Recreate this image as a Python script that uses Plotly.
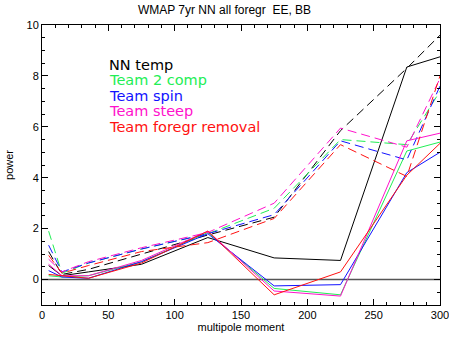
import plotly.graph_objects as go

ell = [5, 15, 35, 75, 125, 175, 225, 275, 300]

nn_solid = [0.55, 0.15, 0.3, 0.6, 1.65, 0.85, 0.75, 8.35, 8.75]
nn_dash = [1.1, 0.2, 0.4, 1.0, 1.75, 2.45, 5.85, 8.3, 9.6]
two_solid = [0.15, 0.1, 0.15, 0.7, 1.85, -0.35, -0.6, 5.05, 5.4]
two_dash = [1.9, 0.25, 0.65, 1.2, 1.8, 2.8, 5.5, 5.3, 7.4]
spin_solid = [0.35, 0.1, 0.05, 0.7, 1.8, -0.25, -0.2, 4.2, 5.0]
spin_dash = [1.35, 0.3, 0.65, 1.2, 1.8, 2.55, 5.45, 4.7, 7.6]
steep_solid = [0.6, 0.15, 0.15, 0.75, 1.9, -0.45, -0.65, 5.45, 5.75]
steep_dash = [0.8, 0.3, 0.7, 1.25, 1.85, 3.0, 5.95, 5.2, 7.9]
rem_solid = [0.2, 0.15, 0.05, 0.65, 1.9, -0.6, 0.3, 4.1, 5.35]
rem_dash = [0.95, 0.25, 0.55, 1.1, 1.45, 2.4, 5.3, 4.05, 8.0]

names = ["NN temp", "Team 2 comp", "Team spin", "Team steep", "Team foregr removal"]
colors = ["#000000", "#22ee55", "#1111ff", "#ff11cc", "#ff1111"]
solids = [nn_solid, two_solid, spin_solid, steep_solid, rem_solid]
dashes = [nn_dash, two_dash, spin_dash, steep_dash, rem_dash]

x_ticks = [0, 50, 100, 150, 200, 250, 300]
y_ticks = [0, 2, 4, 6, 8, 10]

zero_x = [0, 300]
zero_y = [0, 0]

fig = go.Figure()
fig.add_trace(go.Scatter(x=zero_x, y=zero_y, mode="lines",
                         line=dict(color="#555555", width=1.5), showlegend=False))
for n, c, s, d in zip(names, colors, solids, dashes):
    fig.add_trace(go.Scatter(x=ell, y=d, mode="lines", name=n + " BB",
                             line=dict(color=c, width=1, dash="9px,5px"), showlegend=False))
    fig.add_trace(go.Scatter(x=ell, y=s, mode="lines", name=n + " EE",
                             line=dict(color=c, width=1), showlegend=False))

# plot area: x 42..440 px, y 25..305 px
for i, (n, c) in enumerate(zip(names, colors)):
    py = 65 + 15.4 * i
    fig.add_annotation(x=(107 - 42) / 398, y=(305 - py) / 280, xref="paper", yref="paper",
                       text=n, showarrow=False, xanchor="left", yanchor="middle",
                       font=dict(color=c, size=14.5, family="DejaVu Sans"))

axis_common = dict(showline=True, linecolor="#000000", linewidth=1, mirror="allticks",
                   ticks="inside", tickcolor="#000000", showgrid=False, zeroline=False,
                   ticklabeloverflow="allow", automargin=False,
                   tickfont=dict(size=11, family="Liberation Sans", color="#000000"))

fig.update_xaxes(range=[0, 300], tickvals=x_ticks, ticktext=[str(v) for v in x_ticks], ticklen=6,
                 minor=dict(dtick=10, tick0=0, ticks="inside", ticklen=3, tickcolor="#000000", showgrid=False),
                 title=dict(text="multipole moment", font=dict(size=11, family="Liberation Sans", color="#000000"), standoff=2),
                 **axis_common)
fig.update_yaxes(range=[-1, 10], tickvals=y_ticks, ticklen=6,
                 minor=dict(dtick=0.5, tick0=0, ticks="inside", ticklen=3, tickcolor="#000000", showgrid=False),
                 title=dict(text="power", font=dict(size=11, family="Liberation Sans", color="#000000"), standoff=10),
                 **axis_common)

fig.update_layout(
    width=449, height=340,
    margin=dict(l=42, r=9, t=25, b=35, autoexpand=False),
    paper_bgcolor="white", plot_bgcolor="white",
    title=dict(text="WMAP 7yr NN all foregr  EE, BB", x=0.5, xanchor="center",
               y=1 - 10 / 340, yanchor="middle",
               font=dict(size=12, family="Liberation Sans", color="#000000")),
    showlegend=False,
)

fig.write_html("out.html")
